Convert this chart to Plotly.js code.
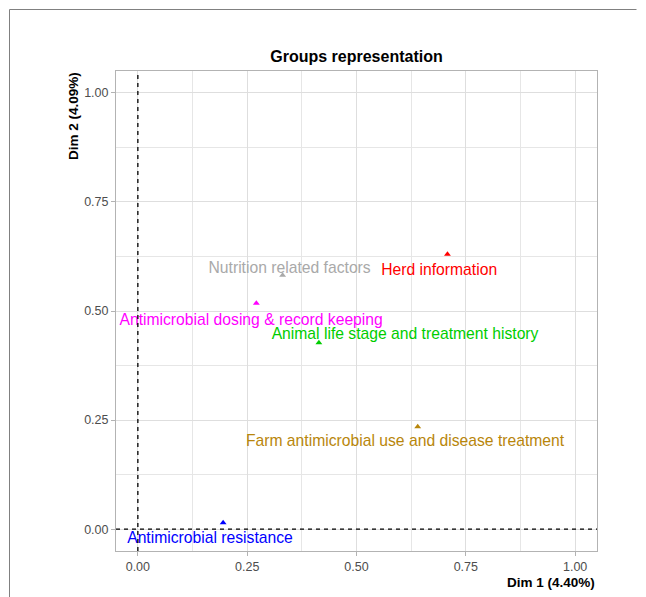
<!DOCTYPE html>
<html>
<head>
<meta charset="utf-8">
<script src="https://cdn.plot.ly/plotly-3.0.1.min.js"></script>
<style>html,body{margin:0;padding:0;background:#fff;}#chart{width:646px;height:597px;}</style>
</head>
<body>
<div id="chart"></div>
<script>
// Groups and their coordinates
const groups = ["Antimicrobial resistance", "Nutrition related factors", "Antimicrobial dosing & record keeping",
                "Animal life stage and treatment history", "Herd information", "Farm antimicrobial use and disease treatment"];
const dim1 = [0.195, 0.331, 0.271, 0.414, 0.708, 0.640];
const dim2 = [0.015, 0.582, 0.518, 0.427, 0.630, 0.235];
// repelled label positions
const labelDim1 = [0.165, 0.347, 0.259, 0.611, 0.689, 0.611];
const labelDim2 = [-0.022, 0.597, 0.478, 0.444, 0.591, 0.199];
const colors = ["#0000FF", "#A9A9A9", "#FF00FF", "#00CD00", "#FF0000", "#B8860B"];
const tickVals = [0, 0.25, 0.5, 0.75, 1.0];
const tickText = ["0.00", "0.25", "0.50", "0.75", "1.00"];

const traces = [
  {
    type: "scatter", mode: "markers", x: dim1, y: dim2,
    marker: {symbol: "triangle-up", size: 6, color: colors},
    hoverinfo: "text", text: groups, showlegend: false
  },
  {
    type: "scatter", mode: "text", x: labelDim1, y: labelDim2, text: groups,
    textposition: "middle center",
    textfont: {family: "Liberation Sans, Arial, sans-serif", size: 15.7, color: colors},
    hoverinfo: "skip", showlegend: false, cliponaxis: false
  }
];

const L = 116, R = 597, T = 71, B = 551, W = 646, H = 597;
const px = v => (v - L) / (R - L);
const py = v => (B - v) / (B - T);

const axisCommon = {
  range: [-0.05, 1.05], tickvals: tickVals, ticktext: tickText,
  showgrid: true, gridcolor: "#DEDEDE", gridwidth: 1,
  minor: {dtick: 0.125, tick0: 0, showgrid: true, gridcolor: "#E6E6E6", gridwidth: 1, ticks: ""},
  zeroline: false, showline: true, linecolor: "#B3B3B3", linewidth: 1, mirror: true,
  ticks: "outside", ticklen: 4, tickcolor: "#B3B3B3", tickwidth: 1,
  tickfont: {family: "Liberation Sans, Arial, sans-serif", size: 12.5, color: "#4D4D4D"}
};

const layout = {
  width: W, height: H,
  margin: {l: L, r: W - R, t: T, b: H - B, pad: 0},
  paper_bgcolor: "#fff", plot_bgcolor: "#fff",
  xaxis: Object.assign({}, axisCommon),
  yaxis: Object.assign({}, axisCommon),
  showlegend: false,
  title: {text: "<b>Groups representation</b>", x: 0.5, xref: "paper", y: 1 - 56 / H, yanchor: "middle",
          font: {family: "Liberation Sans, Arial, sans-serif", size: 16, color: "#000"}},
  shapes: [
    {type: "line", xref: "x", yref: "paper", x0: 0, x1: 0, y0: 0, y1: 1,
     line: {color: "#000", width: 1.3, dash: "4px,4px"}},
    {type: "line", xref: "paper", yref: "y", x0: 0, x1: 1, y0: 0, y1: 0,
     line: {color: "#000", width: 1.3, dash: "4px,4px"}},
    {type: "line", xref: "paper", yref: "paper", x0: px(9.5), x1: px(636.5), y0: py(9.5), y1: py(9.5),
     line: {color: "#808080", width: 1}},
    {type: "line", xref: "paper", yref: "paper", x0: px(9.5), x1: px(9.5), y0: py(9.5), y1: py(600),
     line: {color: "#808080", width: 1}}
  ],
  annotations: [
    {text: "<b>Dim 1 (4.40%)</b>", xref: "paper", yref: "paper", x: px(597), y: py(582),
     xanchor: "right", yanchor: "middle", showarrow: false,
     font: {family: "Liberation Sans, Arial, sans-serif", size: 13.5, color: "#000"}},
    {text: "<b>Dim 2 (4.09%)</b>", xref: "paper", yref: "paper", x: px(73), y: py(116),
     xanchor: "center", yanchor: "middle", showarrow: false, textangle: -90,
     font: {family: "Liberation Sans, Arial, sans-serif", size: 13.5, color: "#000"}}
  ]
};

Plotly.newPlot("chart", traces, layout, {displayModeBar: false, staticPlot: true});
</script>
</body>
</html>
